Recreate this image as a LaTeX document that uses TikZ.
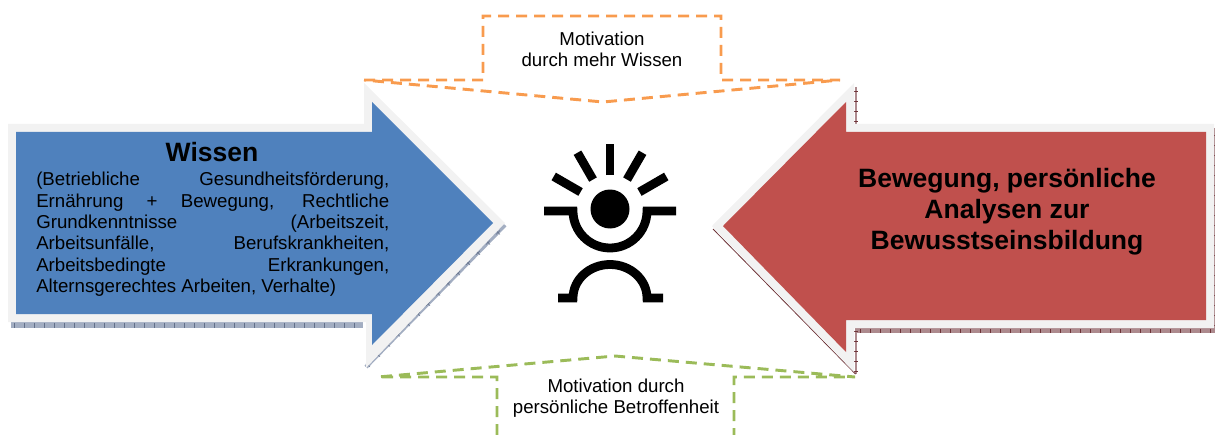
\documentclass[tikz,border=0pt]{standalone}
\usepackage{fontspec}
\setmainfont{Liberation Sans}
\definecolor{wissenblue}{HTML}{4F81BD}
\definecolor{bewegungred}{HTML}{C0504D}
\definecolor{rimgray}{HTML}{F2F2F2}
\definecolor{wissenshadow}{HTML}{A3AEC2}
\definecolor{wissentick}{HTML}{64718A}
\definecolor{bewegungshadow}{HTML}{AD8A8E}
\definecolor{bewegungtick}{HTML}{6E3438}
\definecolor{motivorange}{HTML}{F89B4E}
\definecolor{motivgreen}{HTML}{9BBB59}
\tikzset{
	motivline/.style={line width=2.2pt,dash pattern=on 8.25pt off 5.25pt},
	logoline/.style={black,line width=6.6pt},
	bodytext/.style={font=\fontsize{14}{16}\selectfont,inner sep=0pt},
	headtext/.style={font=\fontsize{19.9}{23.4}\selectfont\bfseries,inner sep=0pt,align=center},
	motivtext/.style={font=\fontsize{14}{16}\selectfont,inner sep=0pt,align=center}
}

\begin{document}
\begin{tikzpicture}[x=0.75pt,y=-0.75pt]

	\useasboundingbox (0,0) rectangle (1215,435);

	%Define the centre of the logo
	\pgfmathsetmacro{\u}{610}
	\pgfmathsetmacro{\v}{209}

	%Shadow of the left arrow
	\fill[wissenshadow] (11,322) rectangle (363,328);
	\draw[wissenshadow,line width=3pt] (366,367) -- (505,225);
	\foreach \x in {14,24,...,360}
		\draw[wissentick,line width=0.4pt] (\x,322.5) -- (\x,328);
	\foreach \t in {0,10,...,130}
		\draw[wissentick,line width=0.4pt] ({368+\t-2},{365-\t*1.02-2}) -- ({368+\t+2},{365-\t*1.02+2})
			({368+\t-2},{365-\t*1.02+2}) -- ({368+\t+2},{365-\t*1.02-2});

	%Left arrow: rim, then body
	\fill[rimgray] (8,124) -- (364,124) -- (364,83) -- (505,223) -- (366,368) -- (366,322) -- (8,322) -- cycle;
	\fill[wissenblue] (16,132) -- (372,132) -- (372,102) -- (493,223) -- (372,345) -- (372,314) -- (16,314) -- cycle;

	%Shadow of the right arrow
	\fill[bewegungshadow] (855,328) rectangle (1215,333);
	\draw[bewegungshadow,line width=1.5pt] (856,87) -- (856,374);
	\draw[bewegungtick,line width=0.6pt] (855.5,374) -- (713,229);
	\draw[bewegungshadow,line width=1pt] (1214.5,128) -- (1214.5,333);
	\foreach \x in {860,870,...,1210}
		\draw[bewegungtick,line width=0.4pt] (\x,328.5) -- (\x,333);
	\foreach \y in {91,101,...,371}
		\draw[bewegungtick,line width=0.4pt] (854,\y) -- (857.5,\y);
	\foreach \y in {135,145,...,325}
		\draw[bewegungtick,line width=0.4pt] (1213,\y) -- (1215,\y);

	%Right arrow: rim, then body
	\fill[rimgray] (1214,124) -- (854,124) -- (854,83) -- (712,226) -- (854,372) -- (854,328) -- (1214,328) -- cycle;
	\fill[bewegungred] (1206,132) -- (846,132) -- (846,102) -- (723,226) -- (846,352) -- (846,320) -- (1206,320) -- cycle;

	%Callouts above and below the logo
	\draw[motivorange,motivline] (364,80) -- (483,80) -- (483,16) -- (721,16) -- (721,80) -- (840,80) -- (603,102) -- cycle;
	\draw[motivgreen,motivline] (497,435) -- (497,377) -- (378,377) -- (615,356) -- (855,377) -- (734,377) -- (734,435);

	%Logo: rays, head, arms and legs
	\foreach \a in {30,60,90,120,150}
		\draw[logoline,line width=6.6pt] ({\u+34*cos(\a)},{\v-34*sin(\a)}) -- ({\u+65*cos(\a)},{\v-65*sin(\a)});
	\fill[black] (\u,\v) circle[radius=19.5];
	\draw[logoline] (544,211) -- (573,211) arc[start angle=180,end angle=0,radius=37] -- (676,211);
	\draw[logoline] (558,298) -- (573,298) arc[start angle=180,end angle=360,x radius=37,y radius=33.5] -- (663,298);

	%Texts
	\draw node[headtext] (wissenhead) at (212,152) {Wissen};
	\draw node[bodytext,text width=264.75pt,align=justify,anchor=north west] (wissenbody) at (36,172) {(Betriebliche Gesundheitsförderung,\linebreak Ernährung + Bewegung, Rechtliche\linebreak Grundkenntnisse (Arbeitszeit,\linebreak Arbeitsunfälle, Berufskrankheiten,\linebreak Arbeitsbedingte Erkrankungen,\linebreak Alternsgerechtes Arbeiten, Verhalte)};
	\draw node[headtext] (bewegunghead) at (1007,211.5) {Bewegung, persönliche\\Analysen zur\\Bewusstseinsbildung};
	\draw node[motivtext] (motivtop) at (602,49) {Motivation\\durch mehr Wissen};
	\draw node[motivtext] (motivbottom) at (616,398) {Motivation durch\\persönliche Betroffenheit};

\end{tikzpicture}
\end{document}
